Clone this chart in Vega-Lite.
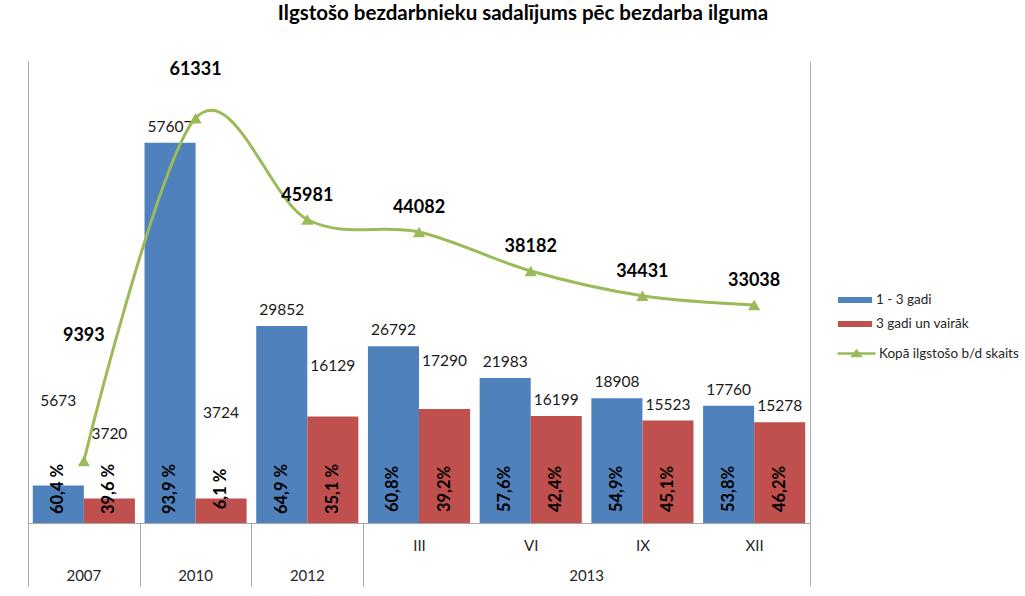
{
  "$schema": "https://vega.github.io/schema/vega-lite/v6.json",
  "width": 782,
  "height": 462,
  "autosize": {"type": "none"},
  "padding": {"left": 28, "top": 61, "right": 215, "bottom": 73},
  "background": "#ffffff",
  "config": {"view": {"stroke": null}, "font": "Lato"},
  "title": {
    "text": "Ilgstošo bezdarbnieku sadalījums  pēc bezdarba ilguma",
    "anchor": "middle",
    "dx": 104,
    "offset": 21,
    "baseline": "alphabetic",
    "font": "Lato",
    "fontSize": 20.5,
    "fontWeight": "bold",
    "color": "#000000"
  },
  "datasets": {
    "bars": [
      {"cat": "2007", "series": "1 - 3 gadi", "value": 5673, "pct": "60,4 %"},
      {"cat": "2007", "series": "3 gadi un vairāk", "value": 3720, "pct": "39,6 %"},
      {"cat": "2010", "series": "1 - 3 gadi", "value": 57607, "pct": "93,9 %"},
      {"cat": "2010", "series": "3 gadi un vairāk", "value": 3724, "pct": "6,1 %"},
      {"cat": "2012", "series": "1 - 3 gadi", "value": 29852, "pct": "64,9 %"},
      {"cat": "2012", "series": "3 gadi un vairāk", "value": 16129, "pct": "35,1 %"},
      {"cat": "III", "series": "1 - 3 gadi", "value": 26792, "pct": "60,8%"},
      {"cat": "III", "series": "3 gadi un vairāk", "value": 17290, "pct": "39,2%"},
      {"cat": "VI", "series": "1 - 3 gadi", "value": 21983, "pct": "57,6%"},
      {"cat": "VI", "series": "3 gadi un vairāk", "value": 16199, "pct": "42,4%"},
      {"cat": "IX", "series": "1 - 3 gadi", "value": 18908, "pct": "54,9%"},
      {"cat": "IX", "series": "3 gadi un vairāk", "value": 15523, "pct": "45,1%"},
      {"cat": "XII", "series": "1 - 3 gadi", "value": 17760, "pct": "53,8%"},
      {"cat": "XII", "series": "3 gadi un vairāk", "value": 15278, "pct": "46,2%"}
    ],
    "totals": [
      {"cat": "2007", "series": "Kopā ilgstošo b/d skaits", "total": 9393},
      {"cat": "2010", "series": "Kopā ilgstošo b/d skaits", "total": 61331},
      {"cat": "2012", "series": "Kopā ilgstošo b/d skaits", "total": 45981},
      {"cat": "III", "series": "Kopā ilgstošo b/d skaits", "total": 44082},
      {"cat": "VI", "series": "Kopā ilgstošo b/d skaits", "total": 38182},
      {"cat": "IX", "series": "Kopā ilgstošo b/d skaits", "total": 34431},
      {"cat": "XII", "series": "Kopā ilgstošo b/d skaits", "total": 33038}
    ]
  },
  "resolve": {"axis": {"x": "independent", "y": "independent"}},
  "layer": [
    {
      "data": {"name": "bars"},
      "mark": {"type": "bar"},
      "encoding": {
        "x": {
          "field": "cat", "type": "nominal",
          "scale": {"domain": ["2007", "2010", "2012", "III", "VI", "IX", "XII"], "paddingInner": 0, "paddingOuter": 0},
          "axis": {
            "title": null, "orient": "bottom", "labelAngle": 0,
            "labelExpr": "indexof(['III','VI','IX','XII'], datum.value) >= 0 ? datum.value : ''",
            "labelFont": "Lato", "labelFontSize": 15, "labelColor": "#262626",
            "labelPadding": -48, "labelBaseline": "top",
            "domainColor": "#A6A6A6", "domainWidth": 1,
            "ticks": true, "tickBand": "extent", "tickSize": 63, "tickColor": "#A6A6A6", "tickWidth": 1,
            "tickOpacity": {"condition": {"test": "!isValid(datum.value) || indexof(['2007','2010','2012','XII'], datum.value) >= 0", "value": 1}, "value": 0},
            "grid": false
          }
        },
        "xOffset": {"field": "series", "type": "nominal", "scale": {"paddingOuter": 0.094, "paddingInner": 0}},
        "y": {
          "field": "value", "type": "quantitative",
          "scale": {"domain": [0, 70000], "nice": false},
          "axis": {"title": null, "orient": "left", "labels": false, "ticks": false, "grid": false, "domain": true, "domainColor": "#A6A6A6"}
        },
        "fill": {
          "field": "series", "type": "nominal",
          "scale": {"domain": ["1 - 3 gadi", "3 gadi un vairāk"], "range": ["#4F81BD", "#C0504D"]},
          "legend": {
            "orient": "none", "legendX": 818.5, "legendY": 230.5, "title": null, "padding": 0,
            "symbolType": "M-2,-0.35H2V0.35H-2Z", "symbolSize": 289, "symbolStrokeWidth": 0,
            "labelOffset": 12.5, "rowPadding": 9,
            "labelFont": "Lato", "labelFontSize": 13.5, "labelColor": "#262626"
          }
        }
      }
    },
    {
      "data": {"name": "bars"},
      "mark": {
        "type": "text", "align": "center", "baseline": "middle",
        "font": "Lato", "fontSize": 15.5, "fill": "#1a1a1a",
        "dy": {"expr": "datum.series == '1 - 3 gadi' ? (datum.cat == '2007' ? -85 : -16) : (datum.cat == '2007' ? -64 : datum.cat == '2010' ? -85 : datum.cat == '2012' ? -51 : datum.cat == 'III' ? -48 : -16)"}
      },
      "encoding": {
        "x": {"field": "cat", "type": "nominal", "axis": null},
        "xOffset": {"field": "series", "type": "nominal"},
        "y": {"field": "value", "type": "quantitative", "axis": null},
        "text": {"field": "value", "type": "nominal"}
      }
    },
    {
      "data": {"name": "bars"},
      "mark": {
        "type": "text", "align": "center", "baseline": "middle", "angle": 270, "dx": 34,
        "font": "Lato", "fontSize": 16.5, "fontWeight": "bold", "fill": "#000000"
      },
      "encoding": {
        "x": {"field": "cat", "type": "nominal", "axis": null},
        "xOffset": {"field": "series", "type": "nominal"},
        "y": {"datum": 0, "type": "quantitative", "axis": null},
        "text": {"field": "pct", "type": "nominal"}
      }
    },
    {
      "data": {"name": "totals"},
      "mark": {"type": "line", "interpolate": "cardinal", "strokeWidth": 3},
      "encoding": {
        "x": {
          "field": "cat", "type": "nominal",
          "axis": {
            "title": null, "orient": "bottom", "labelAngle": 0,
            "labelExpr": "datum.value == 'VI' ? '2013' : (indexof(['2007','2010','2012'], datum.value) >= 0 ? datum.value : '')",
            "labelOffset": {"condition": {"test": "datum.value == 'VI'", "value": 55.9}, "value": 0},
            "labelFont": "Lato", "labelFontSize": 15, "labelColor": "#262626",
            "labelPadding": 45, "labelBaseline": "top",
            "domain": false, "ticks": false, "grid": false
          }
        },
        "y": {
          "field": "total", "type": "quantitative",
          "axis": {"title": null, "orient": "right", "labels": false, "ticks": false, "grid": false, "domain": true, "domainColor": "#A6A6A6"}
        },
        "stroke": {
          "field": "series", "type": "nominal",
          "scale": {"domain": ["Kopā ilgstošo b/d skaits"], "range": ["#9BBB59"]},
          "legend": {
            "orient": "none", "legendX": 818.5, "legendY": 282.5, "title": null, "padding": 0,
            "symbolType": "M-2.24,0H2.24M-0.45,0.3L0,-0.3L0.45,0.3Z", "symbolSize": 289,
            "symbolFillColor": "#9BBB59", "symbolStrokeWidth": 2.5,
            "labelOffset": 12.5,
            "labelFont": "Lato", "labelFontSize": 13.5, "labelColor": "#262626"
          }
        }
      }
    },
    {
      "data": {"name": "totals"},
      "mark": {"type": "point", "shape": "triangle-up", "filled": true, "fill": "#9BBB59", "opacity": 1, "size": 150},
      "encoding": {
        "x": {"field": "cat", "type": "nominal", "axis": null},
        "y": {"field": "total", "type": "quantitative", "axis": null}
      }
    },
    {
      "data": {"name": "totals"},
      "mark": {
        "type": "text", "align": "center", "baseline": "middle",
        "font": "Lato", "fontSize": 18, "fontWeight": "bold", "fill": "#000000",
        "dy": {"expr": "datum.cat == '2007' ? -125 : (datum.cat == '2010' ? -48 : -24)"}
      },
      "encoding": {
        "x": {"field": "cat", "type": "nominal", "axis": null},
        "y": {"field": "total", "type": "quantitative", "axis": null},
        "text": {"field": "total", "type": "nominal"}
      }
    }
  ]
}
